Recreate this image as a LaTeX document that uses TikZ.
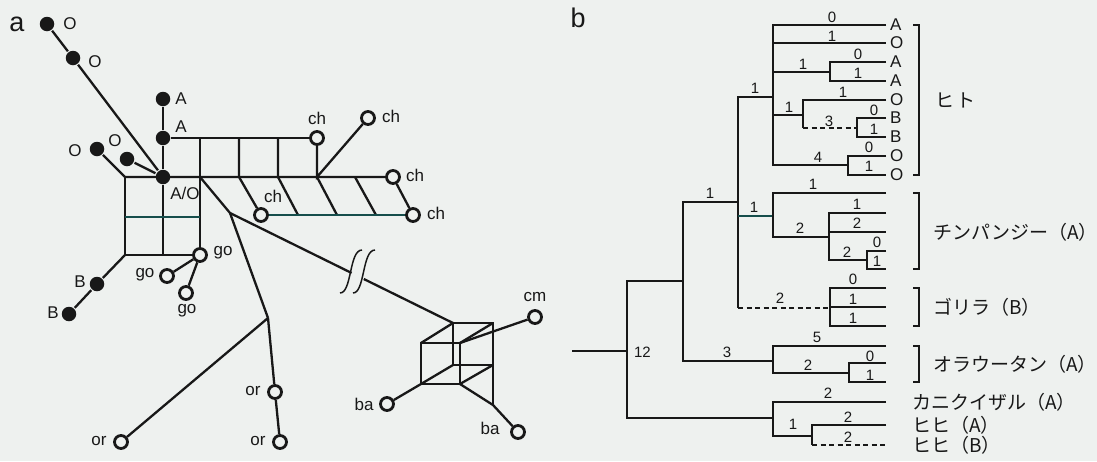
\documentclass[tikz,border=0pt]{standalone}
\usepackage{fontspec}
\setmainfont{Liberation Sans}
\newfontfamily\jpfont{Noto Sans CJK JP}
\usetikzlibrary{calc}
\definecolor{bg}{RGB}{238,241,239}
\definecolor{ink}{RGB}{24,24,24}
\definecolor{tealink}{RGB}{22,78,76}
\newcounter{bn}
\newcommand\bl[3]{\stepcounter{bn}\node[blab] (bl\thebn) at (#1,#2) {#3};}
\newcommand\tl[2]{\stepcounter{bn}\node[tlab] (tl\thebn) at (889,#1) {#2};}
\begin{document}
\begin{tikzpicture}[x=1pt,y=-1pt,line width=2.3pt,draw=ink,
  fdot/.style={circle,fill=ink,draw=none,inner sep=0pt,minimum size=14.5pt},
  odot/.style={circle,draw=ink,line width=2.8pt,fill=bg,inner sep=0pt,minimum size=13pt},
  lab/.style={font=\fontsize{17}{17}\selectfont,text=ink,inner sep=0pt},
  blab/.style={font=\fontsize{15}{15}\selectfont,text=ink,inner sep=0pt},
  tlab/.style={font=\fontsize{17}{17}\selectfont,text=ink,inner sep=0pt,anchor=west},
  jlab/.style={font=\jpfont\fontsize{19}{19}\selectfont,text=ink,inner sep=0pt,anchor=west},
  big/.style={font=\fontsize{27}{27}\selectfont,text=ink,inner sep=0pt},
  dsh/.style={dash pattern=on 5pt off 3.5pt},
  brk/.style={line width=2.6pt}]
\useasboundingbox (0,0) rectangle (1097,461);
\fill[bg] (0,0) rectangle (1097,461);

% ================= panel a =================
\node[big] (pa) at (17,24) {a};
% filled dots
\node[fdot] (o1) at (47,24) {};
\node[fdot] (o2) at (73,58) {};
\node[fdot] (a1) at (163,99) {};
\node[fdot] (a2) at (163,138) {};
\node[fdot] (ao) at (163,177) {};
\node[fdot] (o3) at (97,149) {};
\node[fdot] (o4) at (127,159) {};
\node[fdot] (b1) at (97,284) {};
\node[fdot] (b2) at (69,314) {};
% open circles
\node[odot] (ch1) at (317,138) {};
\node[odot] (ch2) at (368,118) {};
\node[odot] (ch3) at (393,177) {};
\node[odot] (ch4) at (413,215) {};
\node[odot] (ch5) at (261,215) {};
\node[odot] (go1) at (200,255) {};
\node[odot] (go2) at (167,276) {};
\node[odot] (go3) at (186,293) {};
\node[odot] (or1) at (121,442) {};
\node[odot] (or2) at (275,392) {};
\node[odot] (or3) at (280,442) {};
\node[odot] (cm) at (535,317) {};
\node[odot] (ba1) at (387,404) {};
\node[odot] (ba2) at (518,432) {};
% junction coordinates
\coordinate (gTL) at (125,177);
\coordinate (gML) at (125,217);
\coordinate (gBL) at (125,255);
\coordinate (gBM) at (163,255);
\coordinate (gMR) at (200,217);
\coordinate (gTR) at (200,177);
\coordinate (gTop) at (200,138);
\coordinate (t239) at (239,138);
\coordinate (b239) at (239,177);
\coordinate (t278) at (278,138);
\coordinate (b278) at (278,177);
\coordinate (c317) at (317,177);
\coordinate (c355) at (355,177);
\coordinate (s298) at (298,215);
\coordinate (s337) at (337,215);
\coordinate (s376) at (376,215);
\coordinate (j1) at (230,213);
\coordinate (j2) at (268,318);
% cube
\coordinate (bk1) at (453,323);
\coordinate (bk2) at (493,323);
\coordinate (bk3) at (493,365);
\coordinate (bk4) at (453,365);
\coordinate (fr1) at (421,343);
\coordinate (fr2) at (460,343);
\coordinate (fr3) at (460,384);
\coordinate (fr4) at (421,384);
\coordinate (cx) at (493,405);
\coordinate (brA) at ($(j1)!0.545!(bk1)$);
\coordinate (brB) at ($(j1)!0.6!(bk1)$);

% connectors panel a
\draw (o1) -- (o2) -- (ao);
\draw (o3) -- (gTL) -- (ch3);
\draw (o4) -- (ao);
\draw (a1) -- (a2) -- (ao) -- (gBM);
\draw (a2) -- (ch1);
\draw (gTL) -- (gBL) -- (go1);
\draw (gTop) -- (go1);
\draw[tealink] (gML) -- (gMR);
\draw (t239) -- (b239) -- (ch5);
\draw (t278) -- (b278) -- (s298);
\draw (ch1) -- (c317) -- (ch2);
\draw (c317) -- (s337);
\draw (c355) -- (s376);
\draw (ch3) -- (ch4);
\draw[tealink] (ch5) -- (ch4);
\draw (go1) -- (go2);
\draw (go1) -- (go3);
\draw (gBL) -- (b1) -- (b2);
\draw (gTR) -- (j1) -- (j2);
\draw (j2) -- (or1);
\draw (j2) -- (or2) -- (or3);
\draw (j1) -- (brA);
\draw (brB) -- (bk1);
\draw[line width=1.5pt] (340,293) .. controls (352,293) and (349,250) .. (362,250);
\draw[line width=1.5pt] (353,293) .. controls (365,293) and (362,250) .. (375,250);
% cube edges
\draw[line join=miter] (bk1) -- (bk2) -- (bk3) -- (bk4) -- cycle;
\draw[line join=miter] (fr1) -- (fr2) -- (fr3) -- (fr4) -- cycle;
\draw (bk1) -- (fr1);
\draw (bk2) -- (fr2);
\draw (bk3) -- (fr3);
\draw (bk4) -- (fr4);
\draw (bk3) -- (cx);
\draw (fr3) -- (cx) -- (ba2);
\draw (fr4) -- (ba1);
\draw (fr2) -- (cm);

% labels panel a
\node[lab] (lo1) at (70,24) {O};
\node[lab] (lo2) at (95,62) {O};
\node[lab] (la1) at (181,99) {A};
\node[lab] (la2) at (181,127) {A};
\node[lab] (lao) at (185,193) {A/O};
\node[lab] (lo3) at (75,151) {O};
\node[lab] (lo4) at (115,141) {O};
\node[lab] (lb1) at (80,282) {B};
\node[lab] (lb2) at (53,313) {B};
\node[lab] (lch1) at (317,118) {ch};
\node[lab] (lch2) at (391,116) {ch};
\node[lab] (lch3) at (415,175) {ch};
\node[lab] (lch4) at (436,213) {ch};
\node[lab] (lch5) at (273,196) {ch};
\node[lab] (lgo1) at (223,253) {go};
\node[lab] (lgo2) at (145,275) {go};
\node[lab] (lgo3) at (187,311) {go};
\node[lab] (lor1) at (99,441) {or};
\node[lab] (lor2) at (253,391) {or};
\node[lab] (lor3) at (258,441) {or};
\node[lab] (lcm) at (535,297) {cm};
\node[lab] (lba1) at (364,404) {ba};
\node[lab] (lba2) at (490,428) {ba};

% ================= panel b =================
\node[big] (pb) at (578,18) {b};
% human clade
\draw (886,25) -| (773,165) -- (848,165);
\draw (773,43) -- (886,43);
\draw (773,72) -- (830,72);
\draw (886,62) -| (830,81) -- (886,81);
\draw (773,115) -- (803,115);
\draw (886,100) -| (803,128);
\draw[dsh] (803,128) -- (857,128);
\draw (886,118) -| (857,137) -- (886,137);
\draw (886,156) -| (848,175) -- (886,175);
\draw (773,97) -| (738,308);
\draw[tealink] (738,216) -- (773,216);
% chimp
\draw (886,193) -| (773,237) -- (829,237);
\draw (886,213) -| (829,260) -- (867,260);
\draw (829,232) -- (886,232);
\draw (886,251) -| (867,269) -- (886,269);
% gorilla
\draw[dsh] (738,308) -- (830,308);
\draw (886,288) -| (830,326) -- (886,326);
\draw (830,307) -- (886,307);
% great apes + orangutan
\draw (738,202) -| (683,361) -- (773,361);
\draw (886,346) -| (773,373) -- (849,373);
\draw (886,363) -| (849,382) -- (886,382);
% root
\draw (683,281) -| (627,418) -- (773,418);
\draw (572,351) -- (627,351);
% monkeys
\draw (886,402) -| (773,436) -- (812,436);
\draw (886,425) -| (812,445);
\draw[dsh] (812,445) -- (886,445);
% brackets
\draw[brk] (913,25) -- (919,25) -- (919,175) -- (913,175);
\draw[brk] (913,193) -- (919,193) -- (919,269) -- (913,269);
\draw[brk] (913,288) -- (919,288) -- (919,326) -- (913,326);
\draw[brk] (913,346) -- (919,346) -- (919,382) -- (913,382);

% branch numbers
\bl{832}{17}{0} \bl{832}{36}{1} \bl{803}{64}{1} \bl{858}{54}{0} \bl{858}{73}{1}
\bl{789}{107}{1} \bl{843}{92}{1} \bl{829}{121}{3} \bl{874}{110}{0} \bl{874}{129}{1}
\bl{818}{157}{4} \bl{869}{147}{0} \bl{869}{166}{1} \bl{755}{88}{1}
\bl{754}{207}{1} \bl{813}{184}{1} \bl{800}{228}{2} \bl{857}{204}{1} \bl{857}{223}{2}
\bl{847}{252}{2} \bl{877}{242}{0} \bl{877}{261}{1}
\bl{780}{298}{2} \bl{853}{279}{0} \bl{853}{299}{1} \bl{853}{318}{1}
\bl{710}{193}{1} \bl{727}{352}{3} \bl{817}{337}{5} \bl{808}{365}{2} \bl{870}{356}{0} \bl{870}{375}{1}
\bl{828}{393}{2} \bl{793}{424}{1} \bl{848}{417}{2} \bl{848}{437}{2}
\node[blab,anchor=west] (l12) at (633,352) {12};
% tip letters
\tl{25}{A} \tl{43}{O} \tl{62}{A} \tl{81}{A} \tl{100}{O} \tl{118}{B} \tl{137}{B} \tl{156}{O} \tl{175}{O}
% taxon names
\node[jlab] (jh) at (934,100) {ヒ\hspace{2pt}ト};
\node[jlab] (jc) at (932,232) {チンパンジー（A）};
\node[jlab] (jg) at (932,307) {ゴリラ（B）};
\node[jlab] (jo) at (932,364) {オラウータン（A）};
\node[jlab] (jk) at (911,402) {カニクイザル（A）};
\node[jlab] (jb1) at (911,425) {ヒヒ（A）};
\node[jlab] (jb2) at (911,445) {ヒヒ（B）};
\end{tikzpicture}
\end{document}
